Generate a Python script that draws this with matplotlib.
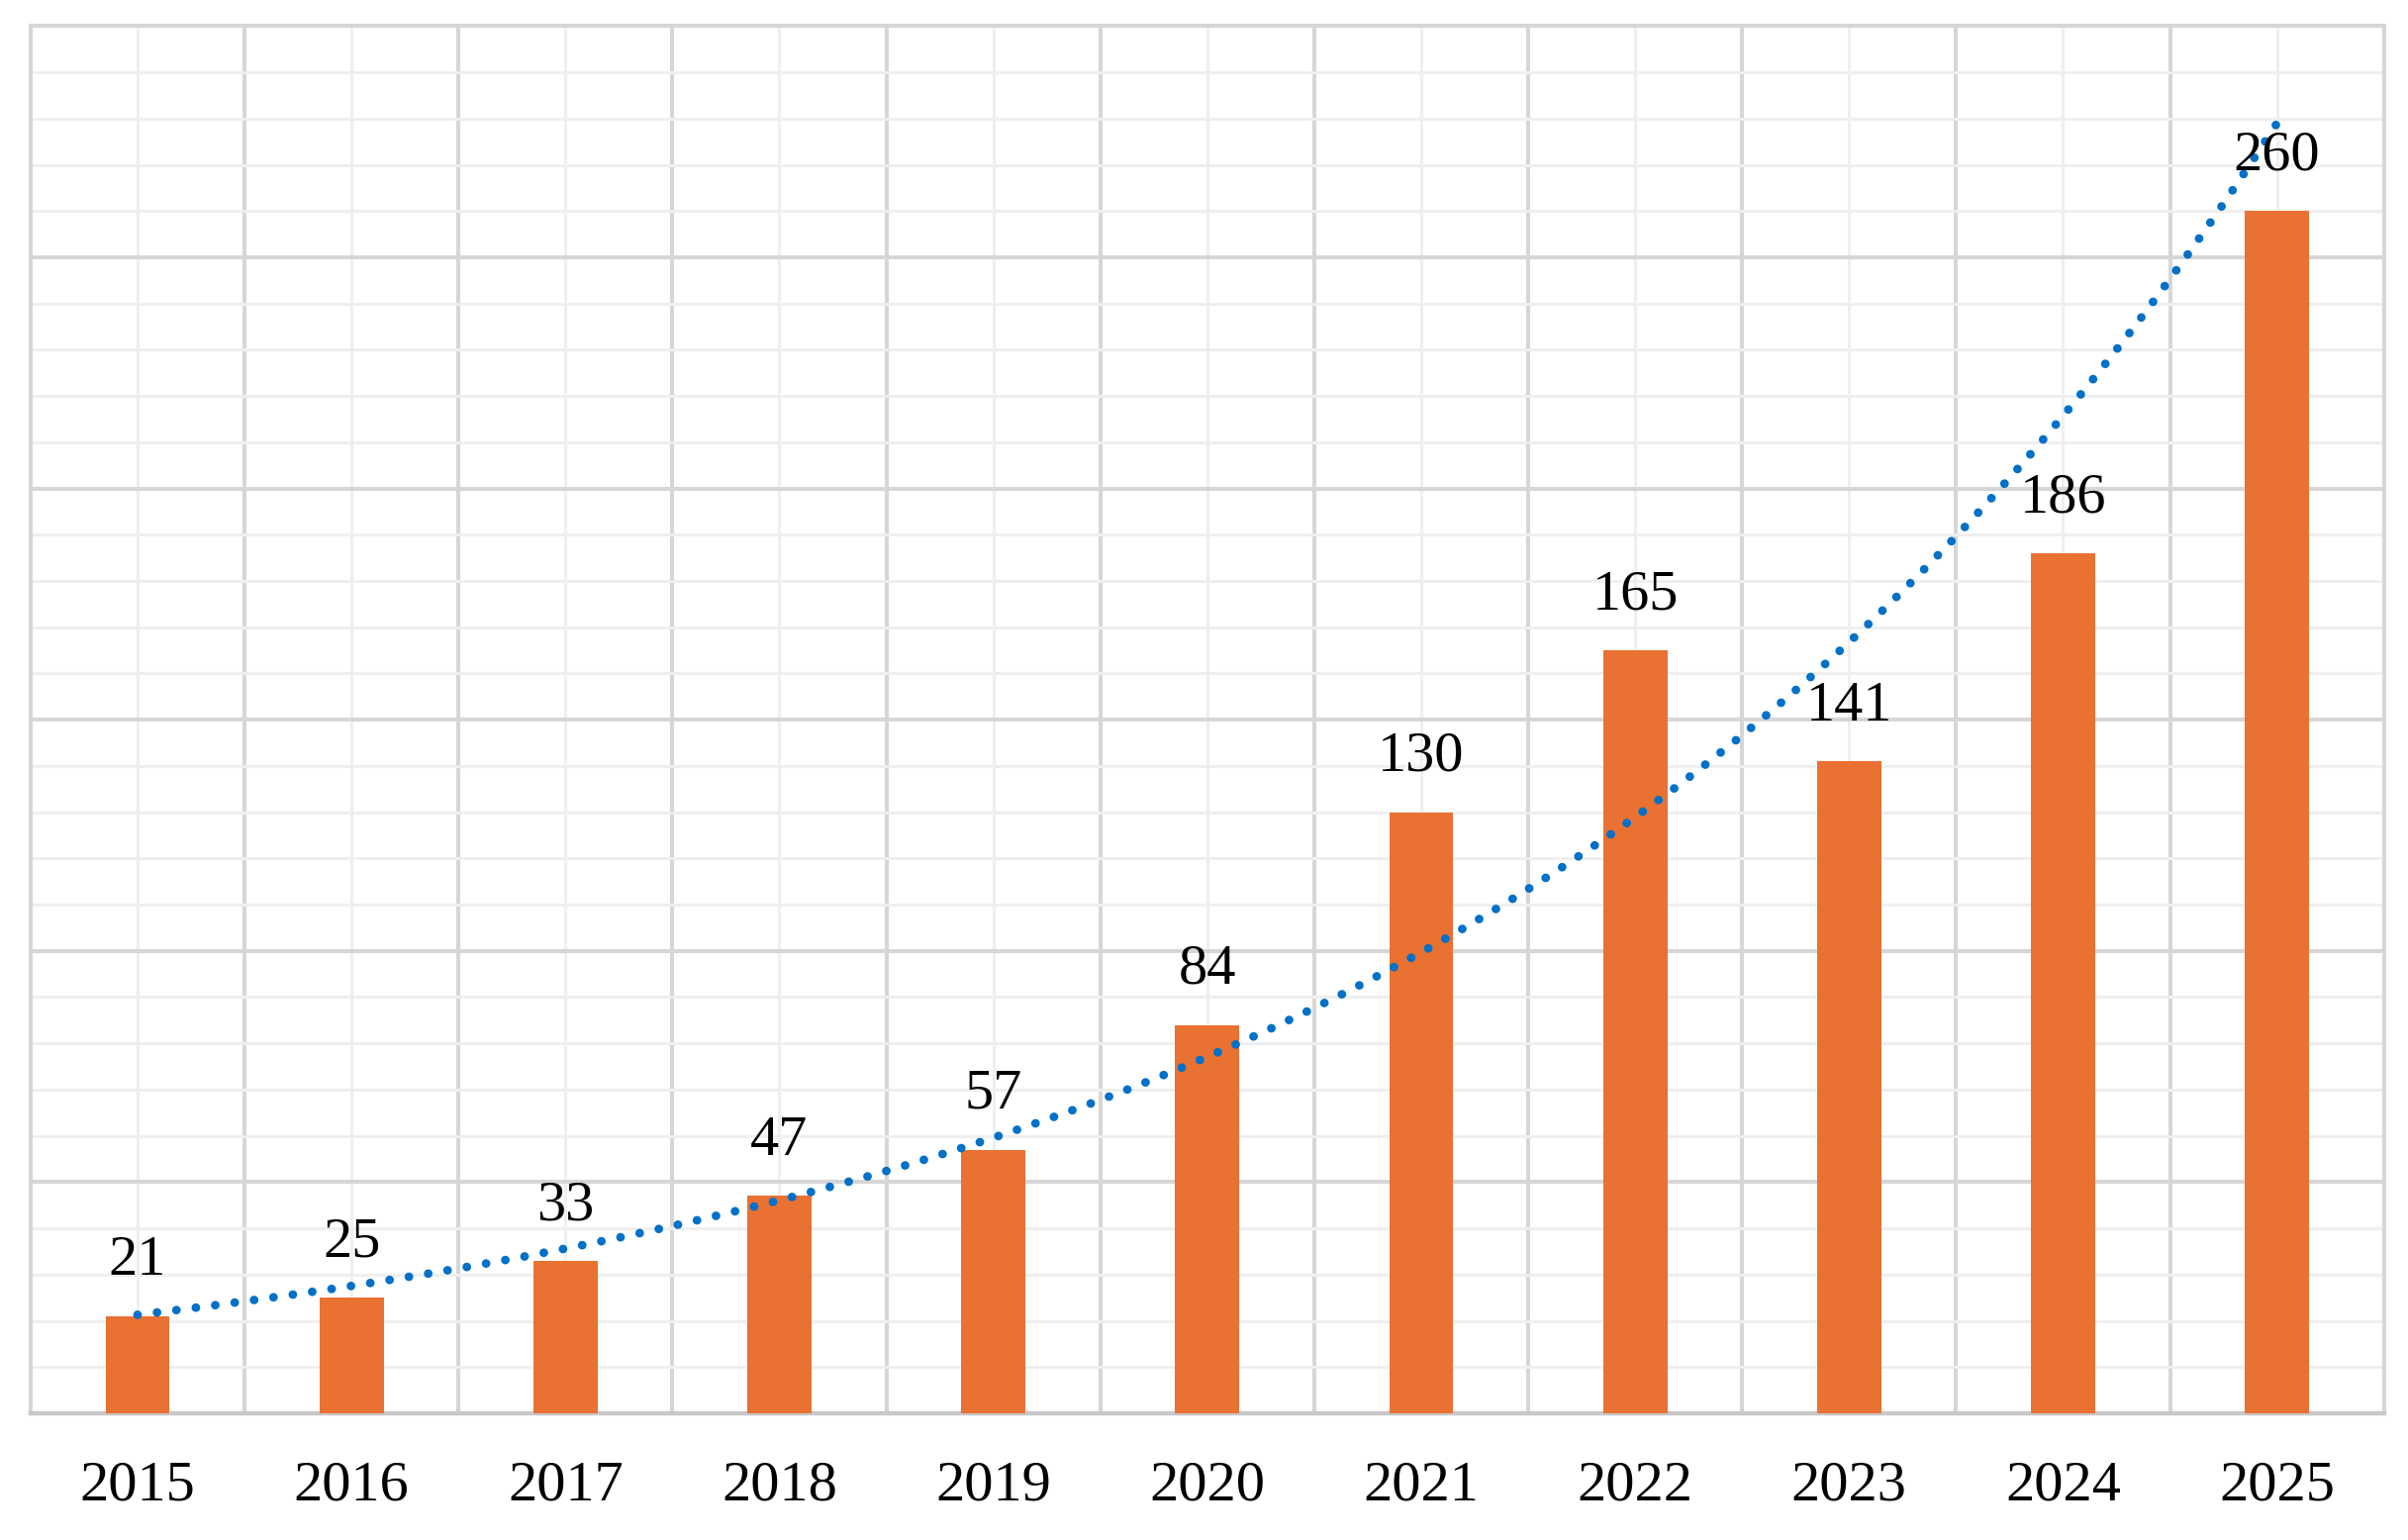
import numpy as np
import matplotlib
matplotlib.use("Agg")
import matplotlib.pyplot as plt
from matplotlib.ticker import MultipleLocator, FixedLocator

years = ["2015", "2016", "2017", "2018", "2019", "2020", "2021", "2022", "2023", "2024", "2025"]
values = [21, 25, 33, 47, 57, 84, 130, 165, 141, 186, 260]

BAR = "#E97132"
TREND = "#0070C8"
MAJ = "#d6d6d6"
MIN = "#efefef"

fig = plt.figure(figsize=(24.33, 15.56), dpi=100)
ax = fig.add_axes([0.0127, 0.0823, 0.9773, 0.9007])

x = np.arange(len(years))
ax.bar(x, values, width=0.30, color=BAR, zorder=3)

# Exponential trendline (least squares on log values, as in a spreadsheet trendline)
b, a = np.polyfit(x, np.log(values), 1)
xt = np.linspace(x[0], x[-1], 400)
ax.plot(xt, np.exp(a + b * xt), color=TREND, lw=6.3,
        linestyle=(0, (0.01, 2.25)), dash_capstyle="round", zorder=4)

for xi, v in zip(x, values):
    ax.annotate(str(v), (xi, v), xytext=(0, 30), textcoords="offset points",
                ha="center", va="baseline", fontsize=42,
                family="Liberation Serif", color="black", zorder=5)

ax.set_xlim(-0.5, len(years) - 0.5)
ax.set_ylim(0, 300)

ax.set_xticks(x)
ax.set_xticklabels(years, fontsize=42, family="Liberation Serif")
ax.xaxis.set_minor_locator(FixedLocator(np.arange(-0.5, len(years), 1.0)))
ax.yaxis.set_major_locator(MultipleLocator(50))
ax.yaxis.set_minor_locator(MultipleLocator(10))
ax.set_yticklabels([])
ax.tick_params(axis="both", which="both", length=0)
ax.tick_params(axis="x", which="major", pad=34)

ax.grid(True, which="minor", axis="y", color=MIN, lw=2.2, zorder=0)
ax.grid(True, which="major", axis="y", color=MAJ, lw=2.9, zorder=1)
ax.grid(True, which="major", axis="x", color=MIN, lw=2.2, zorder=0)
ax.grid(True, which="minor", axis="x", color=MAJ, lw=2.9, zorder=1)
ax.set_axisbelow(True)

for s in ax.spines.values():
    s.set_color(MAJ)
    s.set_linewidth(2.9)
ax.spines["bottom"].set_color("#c8c8c8")
ax.spines["bottom"].set_linewidth(3.2)

fig.savefig("out.png", dpi=100)
